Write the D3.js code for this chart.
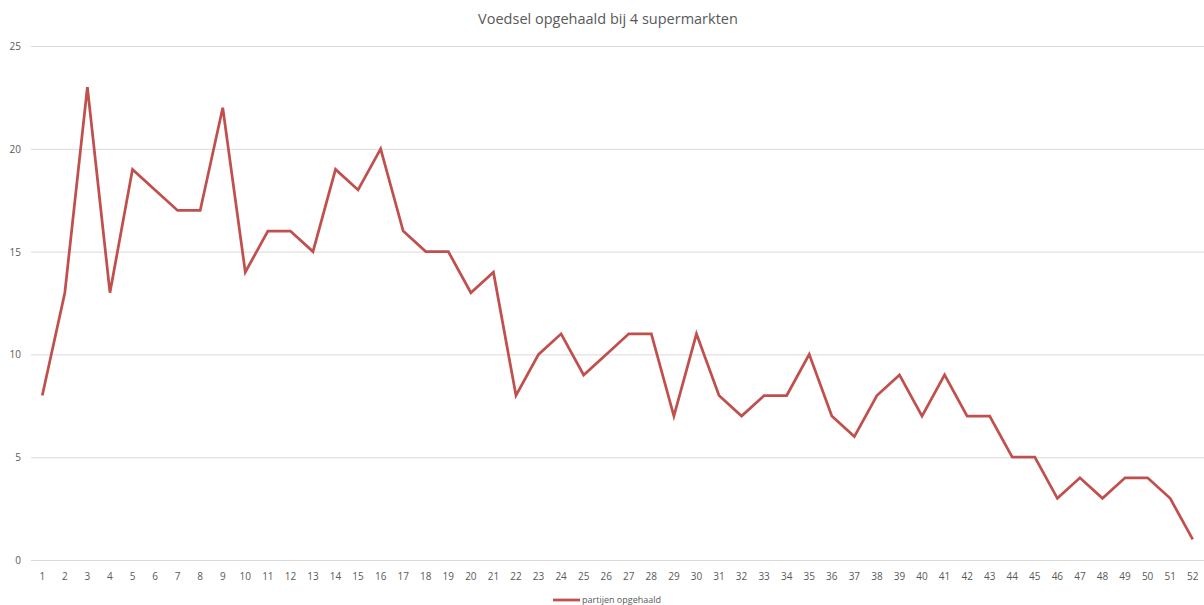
<!DOCTYPE html>
<html>
<head>
<meta charset="utf-8">
<script src="https://cdn.jsdelivr.net/npm/d3@7"></script>
<style>
  body { margin: 0; background: #fff; }
  svg text { font-family: "Open Sans", "DejaVu Sans", sans-serif; fill: #595959; }
</style>
</head>
<body>
<script>
const weeks = d3.range(1, 53);
const partijen = [8, 13, 23, 13, 19, 18, 17, 17, 22, 14, 16, 16, 15, 19, 18, 20, 16, 15, 15, 13,
  14, 8, 10, 11, 9, 10, 11, 11, 7, 11, 8, 7, 8, 8, 10, 7, 6, 8, 9, 7,
  9, 7, 7, 5, 5, 3, 4, 3, 4, 4, 3, 1];
const yTicks = [0, 5, 10, 15, 20, 25];
const title = "Voedsel opgehaald bij 4 supermarkten";
const seriesName = "partijen opgehaald";

const w = 1204, h = 605;
const plotLeft = 31, plotRight = 1204, plotTop = 46, plotBottom = 560;
const lineColor = "#c0504d";

const svg = d3.select("body").append("svg")
  .attr("width", w)
  .attr("height", h);

const x = d3.scalePoint()
  .domain(weeks)
  .range([plotLeft, plotRight])
  .padding(0.5);

const y = d3.scaleLinear()
  .domain([0, 25])
  .range([plotBottom, plotTop]);

// gridlines
svg.append("g")
  .selectAll("line")
  .data(yTicks)
  .enter()
  .append("line")
  .attr("x1", plotLeft)
  .attr("x2", plotRight)
  .attr("y1", d => y(d) + 0.5)
  .attr("y2", d => y(d) + 0.5)
  .attr("stroke", "#d9d9d9")
  .attr("stroke-width", 1);

// y labels
svg.append("g")
  .selectAll("text")
  .data(yTicks)
  .enter()
  .append("text")
  .attr("x", 21)
  .attr("y", d => y(d) + 4)
  .attr("text-anchor", "end")
  .attr("font-size", 10)
  .text(d => d);

// x labels
svg.append("g")
  .selectAll("text")
  .data(weeks)
  .enter()
  .append("text")
  .attr("x", d => x(d))
  .attr("y", 580)
  .attr("text-anchor", "middle")
  .attr("font-size", 10)
  .text(d => d);

const line = d3.line()
  .x((d, i) => x(weeks[i]))
  .y(d => y(d));

svg.append("path")
  .datum(partijen)
  .attr("d", line)
  .attr("fill", "none")
  .attr("stroke", lineColor)
  .attr("stroke-width", 2.75)
  .attr("stroke-linejoin", "miter");

svg.append("text")
  .attr("x", 608)
  .attr("y", 24)
  .attr("text-anchor", "middle")
  .attr("font-size", 14.5)
  .text(title);

// legend
svg.append("line")
  .attr("x1", 553).attr("x2", 580)
  .attr("y1", 600).attr("y2", 600)
  .attr("stroke", lineColor)
  .attr("stroke-width", 2.75);
svg.append("text")
  .attr("x", 582)
  .attr("y", 603)
  .attr("font-size", 9)
  .text(seriesName);
</script>
</body>
</html>
